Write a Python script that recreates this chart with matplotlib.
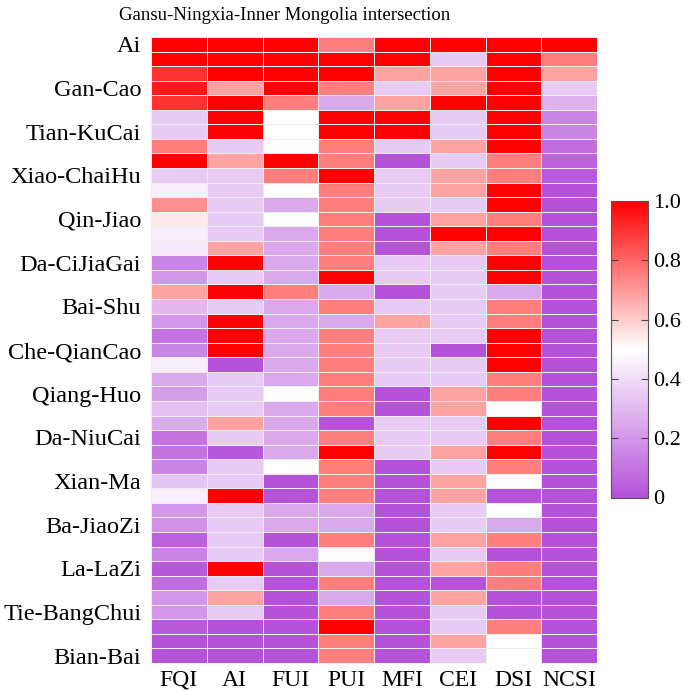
import numpy as np
import matplotlib
matplotlib.use("Agg")
import matplotlib.pyplot as plt
from matplotlib.colors import LinearSegmentedColormap

plt.rcParams['font.family'] = ['Liberation Serif', 'DejaVu Serif']

title = "Gansu-Ningxia-Inner Mongolia intersection"
columns = ["FQI", "AI", "FUI", "PUI", "MFI", "CEI", "DSI", "NCSI"]
row_labels = ["Ai", "Gan-Cao", "Tian-KuCai", "Xiao-ChaiHu", "Qin-Jiao", "Da-CiJiaGai",
              "Bai-Shu", "Che-QianCao", "Qiang-Huo", "Da-NiuCai", "Xian-Ma", "Ba-JiaoZi",
              "La-LaZi", "Tie-BangChui", "Bian-Bai"]
n_rows = 43
label_step = 3

FQI = [1.0, 1.0, 0.9, 0.95, 0.9, 0.35, 0.35, 0.75, 1.0, 0.35, 0.45, 0.72, 0.54, 0.45, 0.44,
       0.15, 0.2, 0.68, 0.3, 0.2, 0.1, 0.15, 0.45, 0.25, 0.22, 0.32, 0.26, 0.1, 0.1, 0.15,
       0.33, 0.45, 0.2, 0.18, 0.05, 0.15, 0.02, 0.08, 0.2, 0.2, 0.03, 0.0, 0.0]
AI = [1.0, 1.0, 1.0, 0.68, 1.0, 1.0, 1.0, 0.35, 0.68, 0.35, 0.35, 0.35, 0.35, 0.35, 0.68,
      1.0, 0.35, 1.0, 0.35, 1.0, 1.0, 1.0, 0.0, 0.35, 0.35, 0.35, 0.68, 0.35, 0.02, 0.35,
      0.35, 1.0, 0.35, 0.35, 0.35, 0.35, 1.0, 0.35, 0.68, 0.35, 0.0, 0.0, 0.0]
FUI = [1.0, 1.0, 1.0, 1.0, 0.75, 0.5, 0.5, 0.5, 1.0, 0.75, 0.5, 0.25, 0.5, 0.25, 0.25,
       0.25, 0.25, 0.75, 0.25, 0.25, 0.25, 0.25, 0.25, 0.25, 0.5, 0.25, 0.25, 0.25, 0.25, 0.5,
       0.0, 0.0, 0.25, 0.25, 0.0, 0.25, 0.0, 0.0, 0.0, 0.0, 0.0, 0.0, 0.0]
PUI = [0.75, 1.0, 1.0, 0.75, 0.25, 1.0, 1.0, 0.75, 0.75, 1.0, 0.75, 0.75, 0.75, 0.75, 0.75,
       0.75, 1.0, 0.25, 0.75, 0.25, 0.75, 0.75, 0.75, 0.75, 0.75, 0.75, 0.0, 0.75, 1.0, 0.75,
       0.75, 0.75, 0.25, 0.25, 0.75, 0.5, 0.25, 0.75, 0.25, 0.75, 1.0, 0.75, 0.75]
MFI = [1.0, 1.0, 0.68, 0.35, 0.68, 1.0, 1.0, 0.35, 0.0, 0.35, 0.35, 0.35, 0.0, 0.0, 0.0,
       0.35, 0.35, 0.0, 0.35, 0.68, 0.35, 0.35, 0.35, 0.35, 0.0, 0.0, 0.35, 0.35, 0.35, 0.0,
       0.0, 0.0, 0.0, 0.0, 0.0, 0.0, 0.0, 0.0, 0.0, 0.0, 0.0, 0.0, 0.0]
CEI = [1.0, 0.35, 0.68, 0.68, 1.0, 0.35, 0.35, 0.68, 0.35, 0.68, 0.68, 0.35, 0.68, 1.0, 0.68,
       0.35, 0.35, 0.35, 0.35, 0.35, 0.35, 0.0, 0.35, 0.35, 0.68, 0.68, 0.35, 0.35, 0.68, 0.35,
       0.68, 0.68, 0.35, 0.35, 0.68, 0.35, 0.68, 0.0, 0.68, 0.35, 0.35, 0.68, 0.35]
DSI = [1.0, 1.0, 1.0, 1.0, 1.0, 1.0, 1.0, 1.0, 0.75, 0.75, 1.0, 1.0, 0.75, 1.0, 0.75,
       1.0, 1.0, 0.25, 0.75, 0.75, 1.0, 1.0, 1.0, 0.75, 0.75, 0.5, 1.0, 0.75, 1.0, 0.75,
       0.5, 0.0, 0.5, 0.25, 0.75, 0.0, 0.75, 0.75, 0.0, 0.0, 0.75, 0.5, 0.5]
NCSI = [1.0, 0.75, 0.68, 0.35, 0.28, 0.15, 0.15, 0.08, 0.05, 0.02, 0.0, 0.0, 0.0, 0.0, 0.0,
        0.0, 0.0, 0.0, 0.0, 0.0, 0.0, 0.0, 0.0, 0.0, 0.0, 0.0, 0.0, 0.0, 0.0, 0.0,
        0.0, 0.0, 0.0, 0.0, 0.0, 0.0, 0.0, 0.0, 0.0, 0.0, 0.0, 0.0, 0.0]

data = np.column_stack([FQI, AI, FUI, PUI, MFI, CEI, DSI, NCSI])

cmap = LinearSegmentedColormap.from_list(
    "pwr", [(0.0, "#B452D8"), (0.5, "#FFFFFF"), (1.0, "#FF0000")])

W, H = 685, 695
fig = plt.figure(figsize=(W / 100, H / 100), dpi=100)
ax = fig.add_axes([151 / W, 1 - 663 / H, 446 / W, 626 / H])
mesh = ax.pcolormesh(data, cmap=cmap, vmin=0, vmax=1,
                     edgecolors="#EDEDED", linewidth=0.7)
ax.set_xlim(0, data.shape[1])
ax.set_ylim(n_rows, 0)
for s in ax.spines.values():
    s.set_visible(False)
ax.set_xticks(np.arange(len(columns)) + 0.5)
ax.set_xticklabels(columns, fontsize=17)
ax.set_yticks(np.arange(0, n_rows, label_step) + 0.5)
ax.set_yticklabels(row_labels, fontsize=17.5)
ax.tick_params(axis="both", length=0)
ax.tick_params(axis="x", pad=5)
ax.tick_params(axis="y", pad=7)

cax = fig.add_axes([611 / W, 1 - 497.5 / H, 37 / W, 296.5 / H])
cb = fig.colorbar(mesh, cax=cax)
cb.set_ticks([0, 0.2, 0.4, 0.6, 0.8, 1.0])
cb.set_ticklabels(["0", "0.2", "0.4", "0.6", "0.8", "1.0"])
cb.outline.set_edgecolor("#555555")
cb.outline.set_linewidth(0.8)
cax.tick_params(direction="in", left=True, right=True, length=5, width=0.8,
                color="#444444", labelsize=16, pad=4)

fig.text(285 / W, 1 - 15 / H, title, ha="center", va="center", fontsize=13.5)

fig.savefig("out.png", dpi=100)
